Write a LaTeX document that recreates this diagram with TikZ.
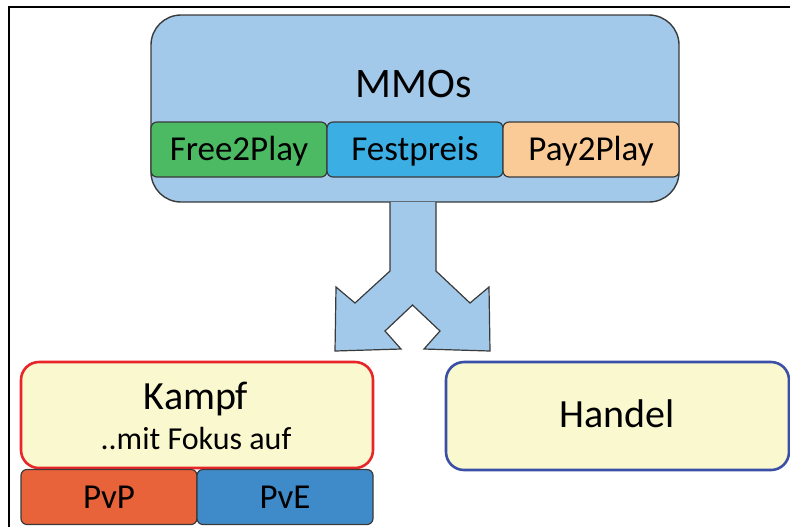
\documentclass[tikz,border=0pt]{standalone}
\usepackage{fontspec}
\setmainfont{Carlito}
\usetikzlibrary{positioning}
\definecolor{mmoblue}{HTML}{A2C8EA}
\definecolor{freegreen}{HTML}{4CB963}
\definecolor{festblue}{HTML}{3BAEE3}
\definecolor{paypeach}{HTML}{FBCB97}
\definecolor{pvpred}{HTML}{E8623A}
\definecolor{pveblue}{HTML}{3F8BC9}
\definecolor{cardyellow}{HTML}{FAF8CE}
\definecolor{kampfred}{HTML}{E8262A}
\definecolor{handelblue}{HTML}{3A4FA5}
\definecolor{edgegray}{HTML}{3A3A3A}

\begin{document}
\begin{tikzpicture}[x=0.5pt,y=-0.5pt,
    tab/.style={draw=edgegray, line width=0.6pt, rounded corners=3pt,
      minimum width=88pt, minimum height=27.5pt, inner sep=0pt,
      text height=11pt, text depth=0pt, font=\fontsize{17.5}{20}\selectfont},
    card/.style={fill=cardyellow, rounded corners=9pt, line width=1.3pt,
      minimum height=53pt, inner sep=0pt}]
    \useasboundingbox (0,0) rectangle (790,527);
    % frame
    \draw[line width=1pt] (9,527) -- (9,7) -- (790,7);

    % top block
    \node[draw=edgegray, fill=mmoblue, line width=0.7pt, rounded corners=15pt,
      minimum width=264pt, minimum height=93.5pt] (mmo) at (415,108.5) {};
    \node[anchor=base, font=\fontsize{21}{25}\selectfont] (mmotext) at (414,97) {MMOs};
    \node[tab, fill=freegreen] (free) at (239,149.5) {Free2Play};
    \node[tab, fill=festblue] (fest) at (415,149.5) {Festpreis};
    \node[tab, fill=paypeach] (pay) at (591,149.5) {Pay2Play};

    % split arrow
    \draw[draw=edgegray, fill=mmoblue, line width=0.6pt]
      (390,202) -- (390,271) -- (355,303) -- (336,287) -- (335,351) -- (401,349)
      -- (385,331) -- (412.5,305) -- (440,331) -- (424,349) -- (490,351)
      -- (489,287) -- (470,303) -- (436,271) -- (436,202);

    % bottom left
    \node[card, draw=kampfred, minimum width=176pt] (kampf) at (197,415) {};
    \node[anchor=base, font=\fontsize{20}{24}\selectfont] (kampftext) at (196,409) {Kampf};
    \node[anchor=base, font=\fontsize{16}{19}\selectfont] (fokus) at (196,449) {..mit Fokus auf};
    \node[tab, fill=pvpred] (pvp) at (109,497) {PvP};
    \node[tab, fill=pveblue] (pve) at (285,497) {PvE};

    % bottom right
    \node[card, draw=handelblue, minimum width=171.5pt, minimum height=54pt,
      text height=11pt, text depth=0pt, font=\fontsize{20}{24}\selectfont]
      (handel) at (617.5,416) {Handel};
\end{tikzpicture}
\end{document}
